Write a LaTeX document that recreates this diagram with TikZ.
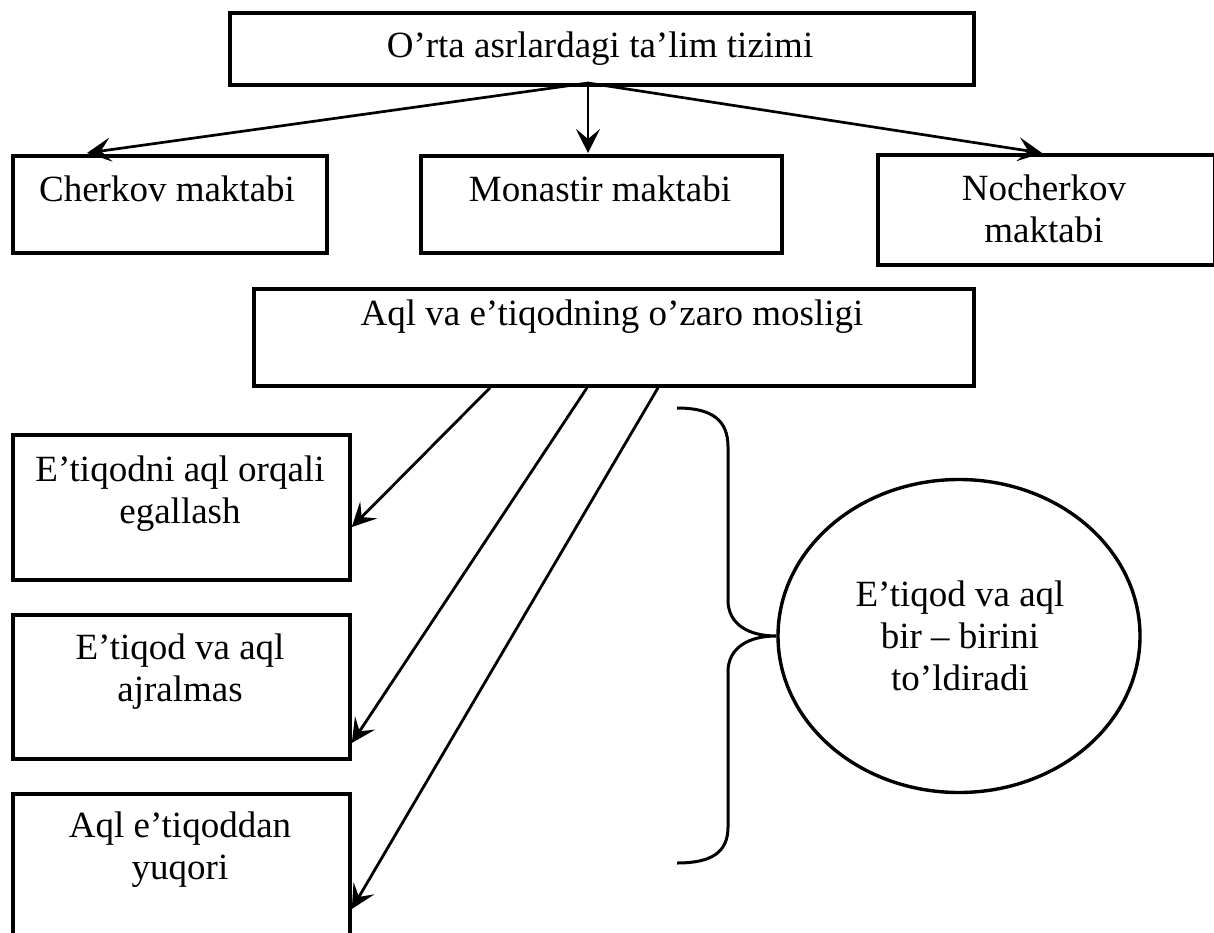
\documentclass[tikz,border=0pt]{standalone}
\usepackage{fontspec}
\setmainfont{Liberation Serif}
\usetikzlibrary{arrows.meta,calc,shapes.geometric}
\begin{document}
\begin{tikzpicture}[x=1pt,y=-1pt,
  box/.style={draw, line width=3.8pt, rectangle, inner sep=0pt, anchor=north west},
  txt/.style={font=\fontsize{37}{42}\selectfont, align=center, inner sep=0pt, anchor=base},
  tip/.style={-{Stealth[length=24pt,width=24pt,inset=10pt]}},
  conn/.style={line width=2.8pt, tip},
  top conn/.style={line width=2.7pt, tip},
]
\useasboundingbox (0,0) rectangle (1214,933);
\clip (0,0) rectangle (1214,933);

% boxes
\node[box, minimum width=744pt, minimum height=72pt] (top) at (228,11) {};
\node[box, minimum width=314pt, minimum height=97pt] (cherkov) at (11,154) {};
\node[box, minimum width=361pt, minimum height=97pt] (monastir) at (419,154) {};
\node[box, minimum width=337pt, minimum height=110pt] (nocherkov) at (876,153) {};
\node[box, minimum width=720pt, minimum height=97pt] (aql) at (252,287) {};
\node[box, minimum width=337pt, minimum height=145pt] (b1) at (11,433) {};
\node[box, minimum width=337pt, minimum height=144pt] (b2) at (11,613) {};
\node[box, minimum width=337pt, minimum height=200pt] (b3) at (11,792) {};
\node[draw, ellipse, line width=3.4pt, inner sep=0pt, minimum width=362pt, minimum height=313pt] (circ) at (959,636) {};

% texts (anchor base = baseline of the last line)
\node[txt] (ttop) at (600,58) {O’rta asrlardagi ta’lim tizimi};
\node[txt] (tcherkov) at (167,202) {Cherkov maktabi};
\node[txt] (tmonastir) at (600,202) {Monastir maktabi};
\node[txt] (tnocherkov) at (1044,243) {Nocherkov\\maktabi};
\node[txt] (taql) at (612,325) {Aql va e’tiqodning o’zaro mosligi};
\node[txt] (tb1) at (180,523) {E’tiqodni aql orqali\\egallash};
\node[txt] (tb2) at (180,701) {E’tiqod va aql\\ajralmas};
\node[txt] (tb3) at (180,879) {Aql e’tiqoddan\\yuqori};
\node[txt] (tcirc) at (960,690) {E’tiqod va aql\\bir – birini\\to’ldiradi};

% top connectors
\coordinate (ts) at (588,83);
\draw[top conn] (ts) -- ($(cherkov.north west)+(76,-1)$);
\draw[top conn] (ts) -- ($(monastir.north west)+(169,-1)$);
\draw[top conn] (ts) -- ($(nocherkov.north west)+(166,0)$);

% lower connectors
\draw[conn] ($(aql.south west)+(238,0)$) -- ($(b1.north east)+(0,94)$);
\draw[conn] ($(aql.south west)+(335,0)$) -- ($(b2.north east)+(0,130)$);
\draw[conn] ($(aql.south west)+(406,0)$) -- ($(b3.north east)+(0,117)$);

% brace
\draw[line width=3pt] (677,408) .. controls (712,408) and (728,420) .. (728,447)
  -- (728,600) .. controls (728,624) and (748,636) .. (circ.west)
  .. controls (748,636) and (728,648) .. (728,672)
  -- (728,827) .. controls (728,852) and (712,863) .. (677,863);
\end{tikzpicture}
\end{document}
